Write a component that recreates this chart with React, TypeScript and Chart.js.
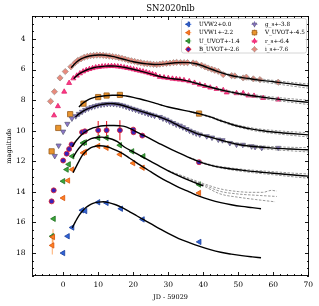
import React, { useEffect, useRef } from "react";
import { Chart, registerables } from "chart.js";

Chart.register(...registerables);

// ---------- axes ----------
const xTicks = [0, 10, 20, 30, 40, 50, 60, 70];
const yTicks = [4, 6, 8, 10, 12, 14, 16, 18];
const xMinorStep = 2;
const yMinorStep = 0.5;
const titleText = "SN2020nlb";
const xTitle = "JD - 59029";
const yTitle = "magnitude";
const legendLabels = [
  "UVW2+0.0", "UVW1+-2.2", "U_UVOT+-1.4", "B_UVOT+-2.6",
  "g_s+-3.8", "V_UVOT+-4.5", "r_s+-6.4", "i_s+-7.6",
];

// ---------- observations ----------
const uvw2X = [0.0, 1.3, 2.6, 5.4, 6.3, 10.0, 12.4, 16.5, 22.7, 38.9];
const uvw2Y = [18.0, 16.9, 16.33, 15.2, 15.25, 14.68, 14.72, 15.1, 15.8, 17.27];
const uvw2Err = [0.12, 0.08, 0.06, 0.05, 0.05, 0.04, 0.04, 0.05, 0.05, 0.06];

const uvw1X = [-3.1, -2.9, 0.0, 1.4, 2.6, 5.7, 6.2, 10.0, 12.4, 16.2, 20.0, 22.7, 38.8];
const uvw1Y = [17.5, 16.95, 14.4, 13.26, 12.54, 11.45, 11.39, 11.0, 11.12, 11.55, 12.12, 12.42, 14.07];
const uvw1Err = [0.6, 0.5, 0.08, 0.05, 0.05, 0.04, 0.04, 0.04, 0.04, 0.04, 0.04, 0.04, 0.05];

const uX = [-3.1, -2.7, 0.0, 1.0, 1.6, 2.6, 5.7, 6.2, 10.0, 12.4, 16.2, 19.7, 22.9, 38.8];
const uY = [16.9, 15.76, 13.3, 12.54, 12.2, 11.67, 10.8, 10.76, 10.47, 10.47, 10.95, 11.35, 11.67, 13.52];
const uErr = [0.2, 0.1, 0.05, 0.04, 0.04, 0.04, 0.04, 0.04, 0.04, 0.04, 0.04, 0.04, 0.04, 0.05];

const bX = [-3.3, -2.7, 0.0, 1.0, 1.7, 2.4, 5.4, 6.2, 10.0, 12.4, 16.2, 20.0, 20.1, 22.6, 38.8];
const bY = [14.62, 13.9, 11.95, 11.5, 11.2, 10.9, 10.1, 10.04, 9.97, 9.97, 9.97, 9.93, 10.1, 10.32, 12.06];
const bErr = [0.05, 0.05, 0.05, 0.05, 0.05, 0.05, 0.05, 0.05, 0.6, 0.6, 0.65, 0.1, 0.1, 0.05, 0.05];

const gX = [-2.4, -1.3, 0.0, 1.2, 2.5, 3.6, 4.5, 5.4, 6.3, 7.2, 8.1, 9.0, 9.9, 10.8, 11.7, 12.6, 13.5, 14.4, 15.3, 16.2, 17.1, 18.0, 18.9, 19.8, 20.7, 21.6, 22.5, 23.4, 24.3, 25.2, 26.1, 27.6, 28.5, 29.5, 30.4, 31.4, 32.3, 33.3, 34.2, 35.2, 36.1, 37.1, 38.0, 39.0, 41.0, 42.5, 44.3, 45.5, 47.6, 49.5, 51.3, 53.8, 54.8, 56.7, 61.4];
const gY = [11.65, 10.97, 10.06, 9.55, 9.2, 9.05, 8.9, 8.76, 8.64, 8.54, 8.46, 8.4, 8.34, 8.3, 8.27, 8.25, 8.24, 8.25, 8.27, 8.31, 8.36, 8.43, 8.5, 8.57, 8.63, 8.7, 8.77, 8.83, 8.9, 8.96, 9.02, 9.1, 9.2, 9.28, 9.4, 9.5, 9.6, 9.67, 9.78, 9.89, 10.0, 10.1, 10.18, 10.25, 10.36, 10.45, 10.58, 10.62, 10.8, 10.91, 10.92, 11.02, 11.06, 11.12, 11.12];

const vX = [-3.3, -1.4, 2.0, 5.8, 10.0, 12.4, 16.2, 38.8];
const vY = [11.35, 9.82, 8.92, 8.23, 7.8, 7.7, 7.66, 8.88];

const rX = [-2.6, -1.5, 0.3, 1.7, 2.9, 3.9, 4.8, 5.7, 6.6, 7.5, 8.4, 9.3, 10.2, 11.1, 12.0, 12.9, 13.8, 14.7, 15.6, 16.5, 17.4, 18.3, 19.2, 20.1, 21.0, 21.9, 22.8, 23.7, 24.6, 25.5, 26.4, 27.6, 28.8, 30.0, 31.2, 32.3, 33.3, 34.5, 36.0, 37.5, 39.0, 40.5, 42.0, 43.8, 45.7, 46.7, 49.5, 51.4, 52.9, 54.5, 57.1, 61.4];
const rY = [9.0, 8.4, 7.45, 6.88, 6.58, 6.4, 6.25, 6.13, 6.04, 5.97, 5.91, 5.86, 5.83, 5.8, 5.79, 5.78, 5.77, 5.78, 5.8, 5.82, 5.86, 5.9, 5.94, 5.99, 6.04, 6.08, 6.13, 6.18, 6.24, 6.3, 6.36, 6.48, 6.52, 6.56, 6.6, 6.63, 6.66, 6.7, 6.77, 6.87, 6.99, 7.08, 7.18, 7.27, 7.35, 7.5, 7.55, 7.55, 7.7, 7.72, 7.86, 7.97];

const iX = [-3.6, -2.5, -0.9, 0.6, 2.2, 3.3, 4.2, 5.1, 6.0, 6.9, 7.8, 8.7, 9.6, 10.5, 11.4, 12.3, 13.2, 14.1, 15.0, 15.9, 16.8, 17.7, 18.6, 19.5, 20.4, 21.3, 22.2, 23.1, 24.0, 24.9, 25.8, 26.7, 27.6, 28.5, 29.5, 30.5, 31.5, 32.4, 33.5, 34.5, 35.5, 37.1, 38.0, 39.5, 40.5, 41.4, 42.4, 43.3, 44.3, 45.7, 48.1, 49.0, 51.4, 52.3, 54.3, 56.2, 61.4];
const iY = [8.08, 7.45, 6.55, 6.13, 5.82, 5.58, 5.4, 5.3, 5.2, 5.14, 5.1, 5.08, 5.06, 5.06, 5.07, 5.1, 5.12, 5.15, 5.18, 5.22, 5.27, 5.32, 5.38, 5.43, 5.47, 5.52, 5.55, 5.6, 5.62, 5.64, 5.66, 5.68, 5.65, 5.62, 5.6, 5.58, 5.55, 5.53, 5.54, 5.55, 5.55, 5.57, 5.62, 5.72, 5.82, 5.9, 5.98, 6.05, 6.12, 6.33, 6.4, 6.42, 6.55, 6.5, 6.61, 6.66, 6.83];

// ---------- model curves ----------
const uvw2ModelX = [2.6, 3.5, 4.5, 5.5, 6.5, 7.5, 8.5, 10, 11.5, 13, 15, 17, 19, 21, 23, 25, 27.6, 30, 33, 36, 38.8, 42, 45, 48, 51, 54, 56.5];
const uvw2ModelY = [16.35, 15.95, 15.55, 15.25, 15.02, 14.86, 14.75, 14.67, 14.65, 14.7, 14.84, 15.05, 15.3, 15.56, 15.82, 16.08, 16.42, 16.72, 17.05, 17.32, 17.55, 17.78, 17.95, 18.07, 18.17, 18.25, 18.31];

const uvw1ModelX = [2.8, 3.5, 4.5, 5.5, 6.5, 7.5, 8.5, 9.5, 10.5, 11.5, 12.5, 13.5, 15, 17, 19, 21, 23, 25, 27.6, 30, 33, 36, 38.8, 42, 45, 48, 51, 54, 56.5];
const uvw1ModelY = [12.75, 12.45, 12.0, 11.6, 11.35, 11.17, 11.06, 11.0, 10.98, 11.0, 11.05, 11.12, 11.27, 11.5, 11.8, 12.1, 12.4, 12.68, 13.05, 13.35, 13.7, 14.0, 14.28, 14.52, 14.7, 14.84, 14.95, 15.03, 15.1];

const uModelX = [2.8, 4, 5, 6, 7, 8, 9.5, 11, 12.5, 14, 15.5, 17.7, 20, 22, 25, 27.6, 30, 33, 36, 38.8, 40];
const uModelY = [11.75, 11.3, 11.02, 10.8, 10.64, 10.52, 10.44, 10.42, 10.46, 10.56, 10.72, 11.1, 11.38, 11.63, 12.0, 12.33, 12.62, 12.95, 13.25, 13.5, 13.6];
const uDashAX = [30, 35, 40, 44.8, 50, 54, 57, 59.5, 61];
const uDashAY = [12.6, 13.03, 13.45, 13.8, 13.98, 14.03, 14.03, 13.9, 13.95];
const uDashBX = [30, 35, 40, 44.8, 50, 55, 61];
const uDashBY = [12.62, 13.08, 13.52, 13.96, 14.14, 14.22, 14.3];
const uDashCX = [30, 35, 40, 44.8, 50, 55, 60.5];
const uDashCY = [12.64, 13.12, 13.6, 14.13, 14.35, 14.5, 14.65];

const bModelX = [2.6, 3.5, 4.5, 5.5, 6.5, 7.5, 8.5, 10, 11.5, 13, 14.5, 16, 17.7, 19, 20.5, 22, 24, 26, 28, 31, 34, 36, 38.8, 42, 45, 48, 51, 54, 57, 60, 65, 70];
const bModelY = [11.05, 10.72, 10.45, 10.22, 10.05, 9.92, 9.82, 9.73, 9.68, 9.66, 9.66, 9.68, 9.73, 9.85, 10.02, 10.2, 10.42, 10.66, 10.9, 11.24, 11.55, 11.76, 12.02, 12.25, 12.4, 12.5, 12.58, 12.66, 12.72, 12.78, 12.88, 12.97];

const gModelX = [3.5, 4.5, 5.5, 6.5, 7.5, 8.5, 9.5, 10.5, 11.5, 12.5, 13.5, 14.5, 15.5, 16.5, 17.7, 20, 22, 24, 26, 28, 30, 32, 34, 36, 38, 40, 42, 44, 46, 48, 50, 53, 56, 60, 65, 70];
const gModelY = [9.1, 8.9, 8.75, 8.62, 8.52, 8.44, 8.37, 8.31, 8.27, 8.24, 8.23, 8.24, 8.27, 8.32, 8.4, 8.58, 8.72, 8.86, 9.0, 9.15, 9.33, 9.55, 9.78, 9.98, 10.17, 10.3, 10.42, 10.55, 10.68, 10.8, 10.9, 11.0, 11.07, 11.14, 11.2, 11.25];

const vModelX = [4.5, 5.5, 6.5, 7.5, 8.5, 10, 12, 14, 16, 18, 20, 22, 24, 26, 28, 30, 33, 36, 38.8, 42, 45, 48, 51, 54, 57, 60, 65, 70];
const vModelY = [8.45, 8.22, 8.06, 7.94, 7.85, 7.77, 7.71, 7.68, 7.68, 7.73, 7.82, 7.93, 8.05, 8.18, 8.32, 8.45, 8.6, 8.74, 8.88, 9.1, 9.35, 9.58, 9.76, 9.9, 10.0, 10.08, 10.18, 10.27];

const rModelX = [3, 4, 5, 6, 7, 8, 9, 10, 11, 12, 13, 14, 15, 16, 17, 18, 20, 22, 24, 26, 28, 30, 32, 34, 36, 38, 40, 42, 44, 46, 48, 50, 53, 56, 60, 65, 70];
const rModelY = [6.6, 6.38, 6.22, 6.1, 6.0, 5.93, 5.87, 5.83, 5.8, 5.78, 5.77, 5.77, 5.78, 5.8, 5.84, 5.88, 5.98, 6.1, 6.22, 6.35, 6.47, 6.56, 6.62, 6.68, 6.77, 6.9, 7.03, 7.15, 7.27, 7.38, 7.48, 7.57, 7.68, 7.78, 7.9, 8.03, 8.15];

const iModelX = [2.3, 3, 4, 5, 6, 7, 8, 9, 10, 11, 12, 13, 14, 15, 16, 17, 18, 19, 20, 22, 24, 26, 28, 30, 32, 34, 36, 38, 40, 42, 44, 46, 48, 50, 53, 56, 60, 65, 70];
const iModelY = [5.88, 5.7, 5.47, 5.32, 5.22, 5.15, 5.1, 5.07, 5.05, 5.05, 5.07, 5.1, 5.14, 5.19, 5.25, 5.31, 5.37, 5.43, 5.49, 5.57, 5.63, 5.67, 5.66, 5.61, 5.56, 5.54, 5.55, 5.62, 5.77, 5.95, 6.12, 6.27, 6.39, 6.48, 6.59, 6.69, 6.8, 6.94, 7.07];

// late-time model spread (grey dashed)
const lateX = [36, 42, 48, 54, 60, 66, 70];
const iUpperY = [5.54, 5.91, 6.34, 6.55, 6.71, 6.86, 6.94];
const iLowerY = [5.58, 5.99, 6.46, 6.71, 6.91, 7.1, 7.22];
const rUpperY = [6.75, 7.11, 7.42, 7.63, 7.8, 7.93, 8.01];
const rLowerY = [6.79, 7.19, 7.54, 7.79, 8.0, 8.17, 8.29];
const vUpperY = [8.72, 9.06, 9.52, 9.82, 9.98, 10.08, 10.13];
const vLowerY = [8.76, 9.14, 9.64, 9.98, 10.18, 10.32, 10.41];
const gUpperY = [9.96, 10.38, 10.74, 10.94, 11.04, 11.09, 11.11];
const gLowerY = [10.0, 10.46, 10.86, 11.1, 11.24, 11.33, 11.39];
const bUpperY = [11.74, 12.21, 12.44, 12.58, 12.68, 12.78, 12.83];
const bLowerY = [11.78, 12.29, 12.56, 12.74, 12.88, 13.02, 13.11];

// ---------- helpers ----------
const pts = (xs: number[], ys: number[]) => xs.map((x, i) => ({ x, y: ys[i] }));
const FONT = '"DejaVu Serif", "Liberation Serif", serif';

function obs(slot: number, xs: number[], ys: number[], errs: number[] | null, st: any) {
  return {
    label: legendLabels[slot],
    legendSlot: slot,
    data: pts(xs, ys),
    errs,
    errColor: st.err,
    showLine: false,
    pointStyle: st.shape,
    rotation: st.rot || 0,
    pointRadius: st.r,
    pointBackgroundColor: st.fill,
    pointBorderColor: st.edge,
    pointBorderWidth: 0.8,
    order: 2,
  };
}
function model(xs: number[], ys: number[]) {
  return {
    label: "",
    data: pts(xs, ys),
    showLine: true,
    pointRadius: 0,
    borderColor: "#000",
    borderWidth: 1.4,
    cubicInterpolationMode: "monotone",
    order: 0,
  };
}
function dashed(xs: number[], ys: number[]) {
  return {
    label: "",
    data: pts(xs, ys),
    showLine: true,
    pointRadius: 0,
    borderColor: "#8c8c8c",
    borderWidth: 0.9,
    borderDash: [2.5, 1.5],
    cubicInterpolationMode: "monotone",
    order: 1,
  };
}

function drawMarker(ctx: CanvasRenderingContext2D, shape: string, x: number, y: number, r: number, rotDeg: number) {
  const rad0 = (rotDeg * Math.PI) / 180;
  ctx.beginPath();
  if (shape === "circle") {
    ctx.arc(x, y, r, 0, Math.PI * 2);
  } else if (shape === "triangle") {
    for (let k = 0; k < 3; k++) {
      const a = rad0 + (k * 2 * Math.PI) / 3;
      const px = x + Math.sin(a) * r;
      const py = y - Math.cos(a) * r;
      if (k === 0) ctx.moveTo(px, py);
      else ctx.lineTo(px, py);
    }
  } else if (shape === "rect") {
    const s = r * Math.SQRT1_2;
    ctx.rect(x - s, y - s, 2 * s, 2 * s);
  } else {
    ctx.moveTo(x, y - r);
    ctx.lineTo(x + r, y);
    ctx.lineTo(x, y + r);
    ctx.lineTo(x - r, y);
  }
  ctx.closePath();
  ctx.fill();
  ctx.stroke();
}

const errorBarPlugin = {
  id: "errorBars",
  beforeDatasetsDraw(chart: any) {
    const { ctx, chartArea, scales } = chart;
    ctx.save();
    ctx.beginPath();
    ctx.rect(chartArea.left, chartArea.top, chartArea.right - chartArea.left, chartArea.bottom - chartArea.top);
    ctx.clip();
    chart.data.datasets.forEach((ds: any) => {
      if (!ds.errs) return;
      ctx.strokeStyle = ds.errColor;
      ctx.lineWidth = 1.1;
      ds.data.forEach((p: any, j: number) => {
        const e = ds.errs[j];
        const px = scales.x.getPixelForValue(p.x);
        ctx.beginPath();
        ctx.moveTo(px, scales.y.getPixelForValue(p.y - e));
        ctx.lineTo(px, scales.y.getPixelForValue(p.y + e));
        ctx.stroke();
      });
    });
    ctx.restore();
  },
};

const framePlugin = {
  id: "frameTicks",
  afterDatasetsDraw(chart: any) {
    const { ctx, chartArea, scales } = chart;
    const { left, right, top, bottom } = chartArea;
    ctx.save();
    ctx.strokeStyle = "#000";
    ctx.lineWidth = 0.9;
    ctx.strokeRect(left + 0.5, top + 0.5, right - left - 1, bottom - top - 1);
    const major = 4;
    const minor = 2;
    ctx.beginPath();
    const xs = scales.x;
    const ys = scales.y;
    for (let v = Math.ceil(xs.min / xMinorStep) * xMinorStep; v <= xs.max; v += xMinorStep) {
      const px = Math.round(xs.getPixelForValue(v)) + 0.5;
      const len = xTicks.includes(v) ? major : minor;
      ctx.moveTo(px, bottom);
      ctx.lineTo(px, bottom - len);
      ctx.moveTo(px, top);
      ctx.lineTo(px, top + len);
    }
    for (let v = Math.ceil(ys.min / yMinorStep) * yMinorStep; v <= ys.max; v += yMinorStep) {
      const py = Math.round(ys.getPixelForValue(v)) + 0.5;
      const len = yTicks.includes(v) ? major : minor;
      ctx.moveTo(left, py);
      ctx.lineTo(left + len, py);
      ctx.moveTo(right, py);
      ctx.lineTo(right - len, py);
    }
    ctx.stroke();
    ctx.restore();
  },
};

const legendTitlePlugin = {
  id: "legendTitle",
  afterDraw(chart: any) {
    const { ctx, chartArea } = chart;
    ctx.save();
    // title
    ctx.fillStyle = "#000";
    ctx.font = `8.5px ${FONT}`;
    ctx.textAlign = "center";
    ctx.textBaseline = "middle";
    ctx.fillText(titleText, (chartArea.left + chartArea.right) / 2, 8.5);

    // legend box
    const w = 125;
    const h = 34.5;
    const bx = chartArea.right - 2.5 - w;
    const by = chartArea.top + 2.5;
    ctx.fillStyle = "rgba(255,255,255,0.85)";
    ctx.strokeStyle = "#cccccc";
    ctx.lineWidth = 0.8;
    const rr = 2;
    ctx.beginPath();
    ctx.moveTo(bx + rr, by);
    ctx.lineTo(bx + w - rr, by);
    ctx.quadraticCurveTo(bx + w, by, bx + w, by + rr);
    ctx.lineTo(bx + w, by + h - rr);
    ctx.quadraticCurveTo(bx + w, by + h, bx + w - rr, by + h);
    ctx.lineTo(bx + rr, by + h);
    ctx.quadraticCurveTo(bx, by + h, bx, by + h - rr);
    ctx.lineTo(bx, by + rr);
    ctx.quadraticCurveTo(bx, by, bx + rr, by);
    ctx.closePath();
    ctx.fill();
    ctx.stroke();

    ctx.font = `5.7px ${FONT}`;
    ctx.textAlign = "left";
    ctx.textBaseline = "middle";
    chart.data.datasets.forEach((ds: any) => {
      if (ds.legendSlot === undefined) return;
      const col = Math.floor(ds.legendSlot / 4);
      const row = ds.legendSlot % 4;
      const mx = bx + (col === 0 ? 6.8 : 73);
      const tx = bx + (col === 0 ? 17.6 : 83.4);
      const my = by + 5.8 + row * 8.33;
      ctx.strokeStyle = ds.errColor;
      ctx.lineWidth = 1;
      ctx.beginPath();
      ctx.moveTo(mx, my - 3);
      ctx.lineTo(mx, my + 3);
      ctx.moveTo(mx - 3, my);
      ctx.lineTo(mx + 3, my);
      ctx.stroke();
      ctx.fillStyle = ds.pointBackgroundColor;
      ctx.strokeStyle = ds.pointBorderColor;
      ctx.lineWidth = 0.8;
      drawMarker(ctx, ds.pointStyle, mx, my, ds.pointRadius * 0.85, ds.rotation);
      ctx.fillStyle = "#000";
      ctx.fillText(ds.label, tx, my + 0.3);
    });
    ctx.restore();
  },
};

const styles: any = {
  uvw2: { shape: "triangle", rot: -90, r: 3.1, fill: "#2f64d8", edge: "#1d3f9a", err: "#3a6ee0" },
  uvw1: { shape: "triangle", rot: -90, r: 3.1, fill: "#ff7f1e", edge: "#d9530f", err: "rgba(255,140,50,0.65)" },
  u: { shape: "triangle", rot: -90, r: 3.1, fill: "#3aa63a", edge: "#1e6e1e", err: "rgba(60,170,60,0.6)" },
  b: { shape: "circle", rot: 0, r: 2.5, fill: "#3a22b8", edge: "#e0202c", err: "#e8202a" },
  g: { shape: "triangle", rot: 180, r: 3.0, fill: "#8c74cc", edge: "#62627e", err: "#8c74cc" },
  v: { shape: "rect", rot: 0, r: 3.7, fill: "#e9952e", edge: "#9a5c1c", err: "#e9952e" },
  r: { shape: "triangle", rot: 0, r: 2.9, fill: "#ff3a86", edge: "#e0206a", err: "#ff3a86" },
  i: { shape: "rectRot", rot: 0, r: 3.1, fill: "#e98a7c", edge: "#a8948e", err: "#e98a7c" },
};

export default function App() {
  const ref = useRef<HTMLCanvasElement>(null);
  useEffect(() => {
    const datasets: any[] = [
      model(uvw2ModelX, uvw2ModelY),
      model(uvw1ModelX, uvw1ModelY),
      model(uModelX, uModelY),
      dashed(uDashAX, uDashAY),
      dashed(uDashBX, uDashBY),
      dashed(uDashCX, uDashCY),
      model(bModelX, bModelY),
      dashed(lateX, bUpperY),
      dashed(lateX, bLowerY),
      model(gModelX, gModelY),
      dashed(lateX, gUpperY),
      dashed(lateX, gLowerY),
      model(vModelX, vModelY),
      dashed(lateX, vUpperY),
      dashed(lateX, vLowerY),
      model(rModelX, rModelY),
      dashed(lateX, rUpperY),
      dashed(lateX, rLowerY),
      model(iModelX, iModelY),
      dashed(lateX, iUpperY),
      dashed(lateX, iLowerY),
      obs(0, uvw2X, uvw2Y, uvw2Err, styles.uvw2),
      obs(1, uvw1X, uvw1Y, uvw1Err, styles.uvw1),
      obs(2, uX, uY, uErr, styles.u),
      obs(3, bX, bY, bErr, styles.b),
      obs(4, gX, gY, null, styles.g),
      obs(5, vX, vY, null, styles.v),
      obs(6, rX, rY, null, styles.r),
      obs(7, iX, iY, null, styles.i),
    ];
    const tickFont = { family: FONT, size: 7.5 };
    const chart = new Chart(ref.current as HTMLCanvasElement, {
      type: "scatter",
      data: { datasets },
      options: {
        responsive: false,
        animation: false,
        devicePixelRatio: 1,
        events: [],
        layout: { padding: { top: 16, right: 10, left: 0, bottom: 0 } },
        plugins: {
          legend: { display: false },
          tooltip: { enabled: false },
          title: { display: false },
        },
        scales: {
          x: {
            type: "linear",
            min: -8.9,
            max: 70.2,
            grid: { display: false, drawTicks: false },
            border: { display: false },
            ticks: { font: tickFont, color: "#000", padding: 4.5, maxRotation: 0, autoSkip: false },
            afterBuildTicks: (s: any) => {
              s.ticks = xTicks.map((v) => ({ value: v }));
            },
            afterFit: (s: any) => {
              s.height = 30;
            },
            title: {
              display: true,
              text: xTitle,
              color: "#000",
              font: { family: FONT, size: 6.5 },
              padding: { top: 0, bottom: 5 },
            },
          },
          y: {
            type: "linear",
            min: 2.5,
            max: 19.5,
            reverse: true,
            grid: { display: false, drawTicks: false },
            border: { display: false },
            ticks: { font: tickFont, color: "#000", padding: 6.5, autoSkip: false },
            afterBuildTicks: (s: any) => {
              s.ticks = yTicks.map((v) => ({ value: v }));
            },
            afterFit: (s: any) => {
              s.width = 32;
            },
            title: {
              display: true,
              text: yTitle,
              color: "#000",
              font: { family: FONT, size: 6.5 },
              padding: { top: 5, bottom: 0 },
            },
          },
        },
      } as any,
      plugins: [errorBarPlugin, framePlugin, legendTitlePlugin],
    } as any);
    return () => chart.destroy();
  }, []);
  return (
    <div style={{ position: "fixed", left: 0, top: 0, width: 319, height: 306, background: "#fff" }}>
      <canvas ref={ref} width={319} height={306} style={{ width: 319, height: 306, display: "block" }} />
    </div>
  );
}
